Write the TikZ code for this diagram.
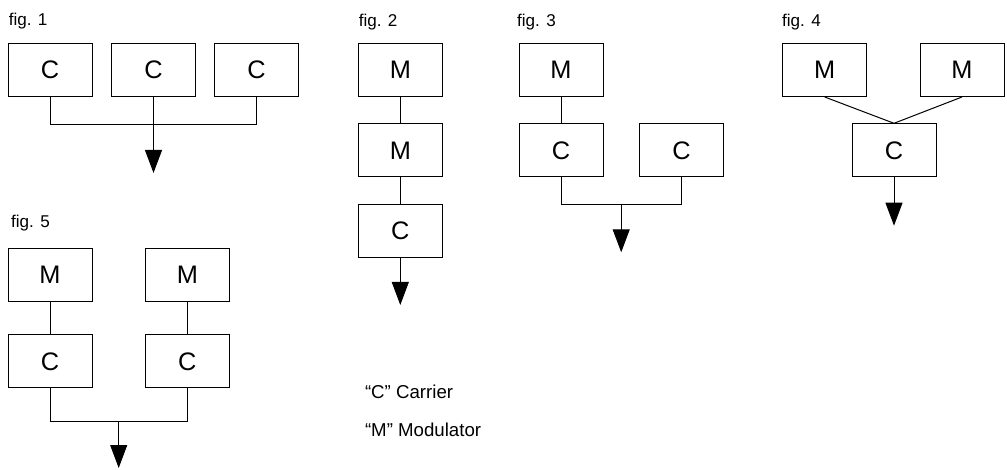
\documentclass[tikz,border=0pt]{standalone}
\usepackage{fontspec}
\setmainfont{Liberation Sans}
\usetikzlibrary{arrows.meta}
\begin{document}
\begin{tikzpicture}[x=0.75pt,y=-0.75pt,line width=0.75pt,
  blk/.style={draw,rectangle,inner sep=0pt,minimum width=63pt,minimum height=39.75pt,font=\fontsize{19}{22}\selectfont},
  lbl/.style={inner sep=0pt,anchor=base west,font=\fontsize{12.8}{15}\selectfont},
  leg/.style={inner sep=0pt,anchor=base west,font=\fontsize{14}{16}\selectfont},
  outarrow/.style={-{Triangle[length=17.25pt,width=12.75pt]}}]
\useasboundingbox (0,0) rectangle (1007,470);
% labels
\node[lbl] (f1) at (8.3,26) {fig. 1};
\node[lbl] (f2) at (358.3,26.7) {fig. 2};
\node[lbl] (f3) at (516.7,27) {fig. 3};
\node[lbl] (f4) at (781.7,27) {fig. 4};
\node[lbl] (f5) at (10.7,227.7) {fig. 5};
\node[leg] (lc) at (364.5,398) {“C” Carrier};
\node[leg] (lm) at (364.5,436.5) {“M” Modulator};
% fig 1
\node[blk] (c11) at (50,70) {C};
\node[blk] (c12) at (153.5,70) {C};
\node[blk] (c13) at (256.5,70) {C};
\coordinate (j1) at (153.5,125);
\coordinate (t1) at (153.5,173);
\draw (c11.south) -- (c11.south |- j1) -- (c13.south |- j1) -- (c13.south);
\draw (c12.south) -- (j1);
\draw[outarrow] (j1) -- (t1);
% fig 2
\node[blk] (m21) at (400.3,70) {M};
\node[blk] (m22) at (400.3,150.3) {M};
\node[blk] (c23) at (400.3,230.7) {C};
\coordinate (t2) at (400.3,305);
\draw (m21) -- (m22);
\draw (m22) -- (c23);
\draw[outarrow] (c23.south) -- (t2);
% fig 3
\node[blk] (m31) at (561,70) {M};
\node[blk] (c31) at (561,150.3) {C};
\node[blk] (c32) at (681.5,150.3) {C};
\coordinate (j3) at (621.2,204.3);
\coordinate (t3) at (621.2,252.3);
\draw (m31) -- (c31);
\draw (c31.south) -- (c31.south |- j3) -- (c32.south |- j3) -- (c32.south);
\draw[outarrow] (j3) -- (t3);
% fig 4
\node[blk] (m41) at (824.7,70) {M};
\node[blk] (m42) at (962,70) {M};
\node[blk] (c41) at (894,150.3) {C};
\coordinate (t4) at (894,225.7);
\draw (m41.south) -- (c41.north) -- (m42.south);
\draw[outarrow] (c41.south) -- (t4);
% fig 5
\node[blk] (m51) at (50,274.7) {M};
\node[blk] (m52) at (187.3,274.7) {M};
\node[blk] (c51) at (50,361.3) {C};
\node[blk] (c52) at (187.3,361.3) {C};
\coordinate (j5) at (118.7,421.7);
\coordinate (t5) at (118.7,468);
\draw (m51) -- (c51);
\draw (m52) -- (c52);
\draw (c51.south) -- (c51.south |- j5) -- (c52.south |- j5) -- (c52.south);
\draw[outarrow] (j5) -- (t5);
\end{tikzpicture}
\end{document}
